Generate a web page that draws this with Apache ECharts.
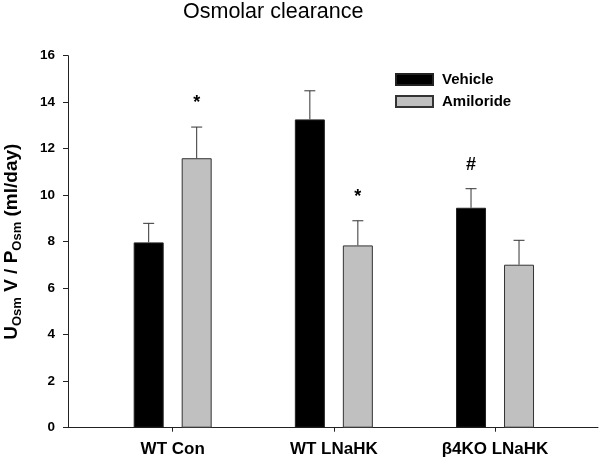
<!DOCTYPE html>
<html>
<head>
<meta charset="utf-8">
<script src="https://cdn.jsdelivr.net/npm/echarts@6/dist/echarts.min.js"></script>
<style>html,body{margin:0;padding:0;background:#fff}#c{width:600px;height:459px}</style>
</head>
<body>
<div id="c"></div>
<script>
const categories = ['WT Con', 'WT LNaHK', '\u03b24KO LNaHK'];
const seriesNames = ['Vehicle', 'Amiloride'];
const vehicleMean = [7.97, 13.26, 9.46];
const vehicleErr = [0.82, 1.23, 0.82];
const amilorideMean = [11.59, 7.84, 7.01];
const amilorideErr = [1.34, 1.06, 1.05];
const vehicleMarks = ['', '', '#'];
const amilorideMarks = ['*', '*', ''];
const yTicks = { min: 0, max: 16, interval: 2 };

const FONT = "'Liberation Sans', Arial, sans-serif";
const BAR_W = 30, BAR_GAP = 0.6;
const colors = ['#000000', '#c0c0c0'];

function errData(mean, err, marks) {
  return mean.map((m, i) => [i, m, m + err[i], marks[i]]);
}

function makeErr(sign) {
  return function (params, api) {
    const base = api.coord([api.value(0), api.value(1)]);
    const top = api.coord([api.value(0), api.value(2)]);
    const off = sign * BAR_W * (1 + BAR_GAP) / 2;
    const x = base[0] + off;
    const cap = 5.5;
    const mark = api.value(3);
    const children = [
      { type: 'line', shape: { x1: x, y1: base[1], x2: x, y2: top[1] }, style: { stroke: '#333', lineWidth: 1 } },
      { type: 'line', shape: { x1: x - cap, y1: top[1], x2: x + cap, y2: top[1] }, style: { stroke: '#333', lineWidth: 1 } }
    ];
    if (mark) {
      children.push({ type: 'text', style: { x: x, y: top[1] - 24, text: mark, textAlign: 'center', textVerticalAlign: 'middle', font: 'bold 18px ' + FONT, fill: '#000' } });
    }
    return { type: 'group', children: children };
  };
}

const chart = echarts.init(document.getElementById('c'), null, { renderer: 'canvas' });
chart.setOption({
  animation: false,
  backgroundColor: '#fff',
  title: {
    text: 'Osmolar clearance', left: 183, top: 1, padding: 0,
    textStyle: { fontFamily: FONT, fontWeight: 'normal', fontSize: 21.5, color: '#000' }
  },
  legend: {
    data: seriesNames, orient: 'vertical', left: 395, top: 72, padding: 0,
    itemWidth: 37, itemHeight: 11, itemGap: 7, icon: 'rect',
    textStyle: { fontFamily: FONT, fontWeight: 'bold', fontSize: 15, color: '#000', padding: [0, 0, 0, 4] }
  },
  grid: [
    { left: 68, right: 2, top: 55.7, bottom: 31.3, outerBoundsMode: 'none', containLabel: false },
    { left: 92.1, right: 24.4, top: 55.7, bottom: 31.3, outerBoundsMode: 'none', containLabel: false }
  ],
  xAxis: [
    { type: 'value', gridIndex: 0, min: 0, max: 1, axisLine: { show: true, onZero: false, lineStyle: { color: '#222', width: 1 } },
      axisTick: { show: false }, axisLabel: { show: false }, splitLine: { show: false } },
    { type: 'category', gridIndex: 1, data: categories, axisLine: { show: false },
      axisTick: { show: true, alignWithLabel: true, length: 4, lineStyle: { color: '#222' } },
      axisLabel: { margin: 13, fontFamily: FONT, fontWeight: 'bold', fontSize: 17, color: '#000' },
      splitLine: { show: false } }
  ],
  yAxis: [
    { type: 'value', gridIndex: 0, min: yTicks.min, max: yTicks.max, interval: yTicks.interval,
      axisLine: { show: true, lineStyle: { color: '#222', width: 1 } },
      axisTick: { show: true, length: 5, lineStyle: { color: '#222' } },
      axisLabel: { margin: 13, fontFamily: FONT, fontWeight: 'bold', fontSize: 13.5, color: '#000' },
      splitLine: { show: false },
      name: '{m|U}{s|Osm}{m| V / P}{s|Osm}{m| (ml/day)}',
      nameLocation: 'middle', nameRotate: 90, nameGap: 44,
      nameTextStyle: {
        rich: {
          m: { fontFamily: FONT, fontWeight: 'bold', fontSize: 19, color: '#000', lineHeight: 25, verticalAlign: 'middle' },
          s: { fontFamily: FONT, fontWeight: 'bold', fontSize: 13, color: '#000', lineHeight: 13, verticalAlign: 'bottom' }
        }
      } },
    { type: 'value', gridIndex: 1, min: yTicks.min, max: yTicks.max, interval: yTicks.interval, show: false, splitLine: { show: false } }
  ],
  series: [
    { name: seriesNames[0], type: 'bar', xAxisIndex: 1, yAxisIndex: 1, data: vehicleMean, barWidth: BAR_W, barGap: (BAR_GAP * 100) + '%',
      itemStyle: { color: colors[0], borderColor: '#222', borderWidth: 1 } },
    { name: seriesNames[1], type: 'bar', xAxisIndex: 1, yAxisIndex: 1, data: amilorideMean, barWidth: BAR_W, barGap: (BAR_GAP * 100) + '%',
      itemStyle: { color: colors[1], borderColor: '#333', borderWidth: 1 } },
    { name: 'errV', type: 'custom', xAxisIndex: 1, yAxisIndex: 1, data: errData(vehicleMean, vehicleErr, vehicleMarks), renderItem: makeErr(-1), z: 3 },
    { name: 'errA', type: 'custom', xAxisIndex: 1, yAxisIndex: 1, data: errData(amilorideMean, amilorideErr, amilorideMarks), renderItem: makeErr(1), z: 3 }
  ]
});
</script>
</body>
</html>
